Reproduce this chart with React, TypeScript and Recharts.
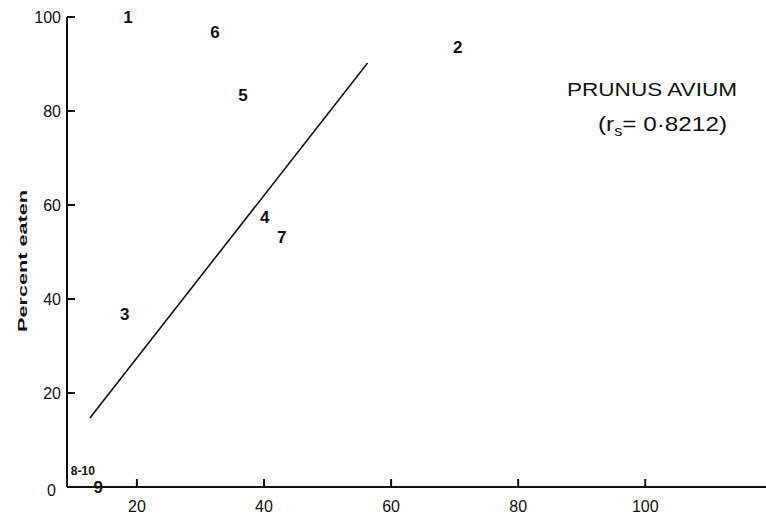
import { ScatterChart, Scatter, XAxis, YAxis, ReferenceLine } from "recharts";

// plotted points, numbered as on the sheet
const pointLabels = ["1", "2", "3", "4", "5", "6", "7", "8-10", "9"];
const pctValues = [18.6, 70.5, 18.1, 40.1, 36.7, 32.3, 42.8, 11.5, 13.9];
const pctEaten = [99.8, 93.6, 36.6, 57.4, 83.4, 96.8, 53, 3.4, 0];

// fitted line end points
const fitX = [12.6, 56.3];
const fitY = [14.7, 90.2];

const xTicks = [20, 40, 60, 80, 100];
const yTicks = [0, 20, 40, 60, 80, 100];

const X_MIN = 9;
const X_MAX = 119;

const points = pointLabels.map((label, i) => ({ label, x: pctValues[i], y: pctEaten[i] }));

const FONT = "'Liberation Sans', Arial, sans-serif";

function NumberMark(props: any) {
  const { cx, cy, payload } = props;
  const small = payload.label.length > 2;
  return (
    <text
      x={cx}
      y={cy}
      textAnchor="middle"
      dominantBaseline="central"
      fontFamily={FONT}
      fontWeight="bold"
      fontSize={small ? 12 : 17}
      fill="#111"
    >
      {payload.label}
    </text>
  );
}

// tick marks point inward from the axis
function XTick(props: any) {
  const { x, y, payload } = props;
  return (
    <g>
      <rect x={x - 1} y={y - 8} width={2} height={8} fill="#111" />
      <text x={x} y={y + 19} textAnchor="middle" dominantBaseline="central" fontFamily={FONT} fontSize={16} fill="#111">
        {payload.value}
      </text>
    </g>
  );
}

function YTick(props: any) {
  const { x, y, payload } = props;
  const zero = payload.value === 0;
  return (
    <g>
      {!zero && <rect x={x} y={y - 1} width={8} height={2} fill="#111" />}
      <text
        x={zero ? x - 11 : x - 6}
        y={zero ? y + 3 : y}
        textAnchor="end"
        dominantBaseline="central"
        fontFamily={FONT}
        fontSize={16}
        fill="#111"
      >
        {payload.value}
      </text>
    </g>
  );
}

export default function App() {
  return (
    <div style={{ position: "absolute", left: 0, top: 0, width: 766, height: 521, background: "#fff" }}>
      <ScatterChart width={766} height={521} margin={{ top: 17, right: 0, bottom: 0, left: 0 }}>
        <XAxis
          type="number"
          dataKey="x"
          domain={[X_MIN, X_MAX]}
          ticks={xTicks}
          height={34}
          tickSize={0}
          tickMargin={0}
          tickLine={false}
          axisLine={{ stroke: "#111", strokeWidth: 2 }}
          tick={<XTick />}
        />
        <YAxis
          type="number"
          dataKey="y"
          domain={[0, 100]}
          ticks={yTicks}
          width={67}
          tickSize={0}
          tickMargin={0}
          tickLine={false}
          axisLine={{ stroke: "#111", strokeWidth: 2 }}
          tick={<YTick />}
        />
        <ReferenceLine
          segment={[
            { x: fitX[0], y: fitY[0] },
            { x: fitX[1], y: fitY[1] },
          ]}
          stroke="#111"
          strokeWidth={1.6}
        />
        <Scatter data={points} shape={<NumberMark />} isAnimationActive={false} />
        <text
          x={0}
          y={0}
          transform="translate(22 261) rotate(-90)"
          textAnchor="middle"
          dominantBaseline="central"
          fontFamily={FONT}
          fontWeight="bold"
          fontSize={13}
          textLength={142}
          lengthAdjust="spacingAndGlyphs"
          fill="#111"
        >
          Percent eaten
        </text>
        <text x={567} y={96} fontFamily={FONT} fontSize={19} textLength={170} lengthAdjust="spacingAndGlyphs" fill="#111">
          PRUNUS AVIUM
        </text>
        <text x={598} y={131} fontFamily={FONT} fontSize={21} textLength={129} lengthAdjust="spacingAndGlyphs" fill="#111">
          (r
          <tspan fontSize={14} dy={5}>s</tspan>
          <tspan dy={-5}>= 0·8212)</tspan>
        </text>
      </ScatterChart>
    </div>
  );
}
